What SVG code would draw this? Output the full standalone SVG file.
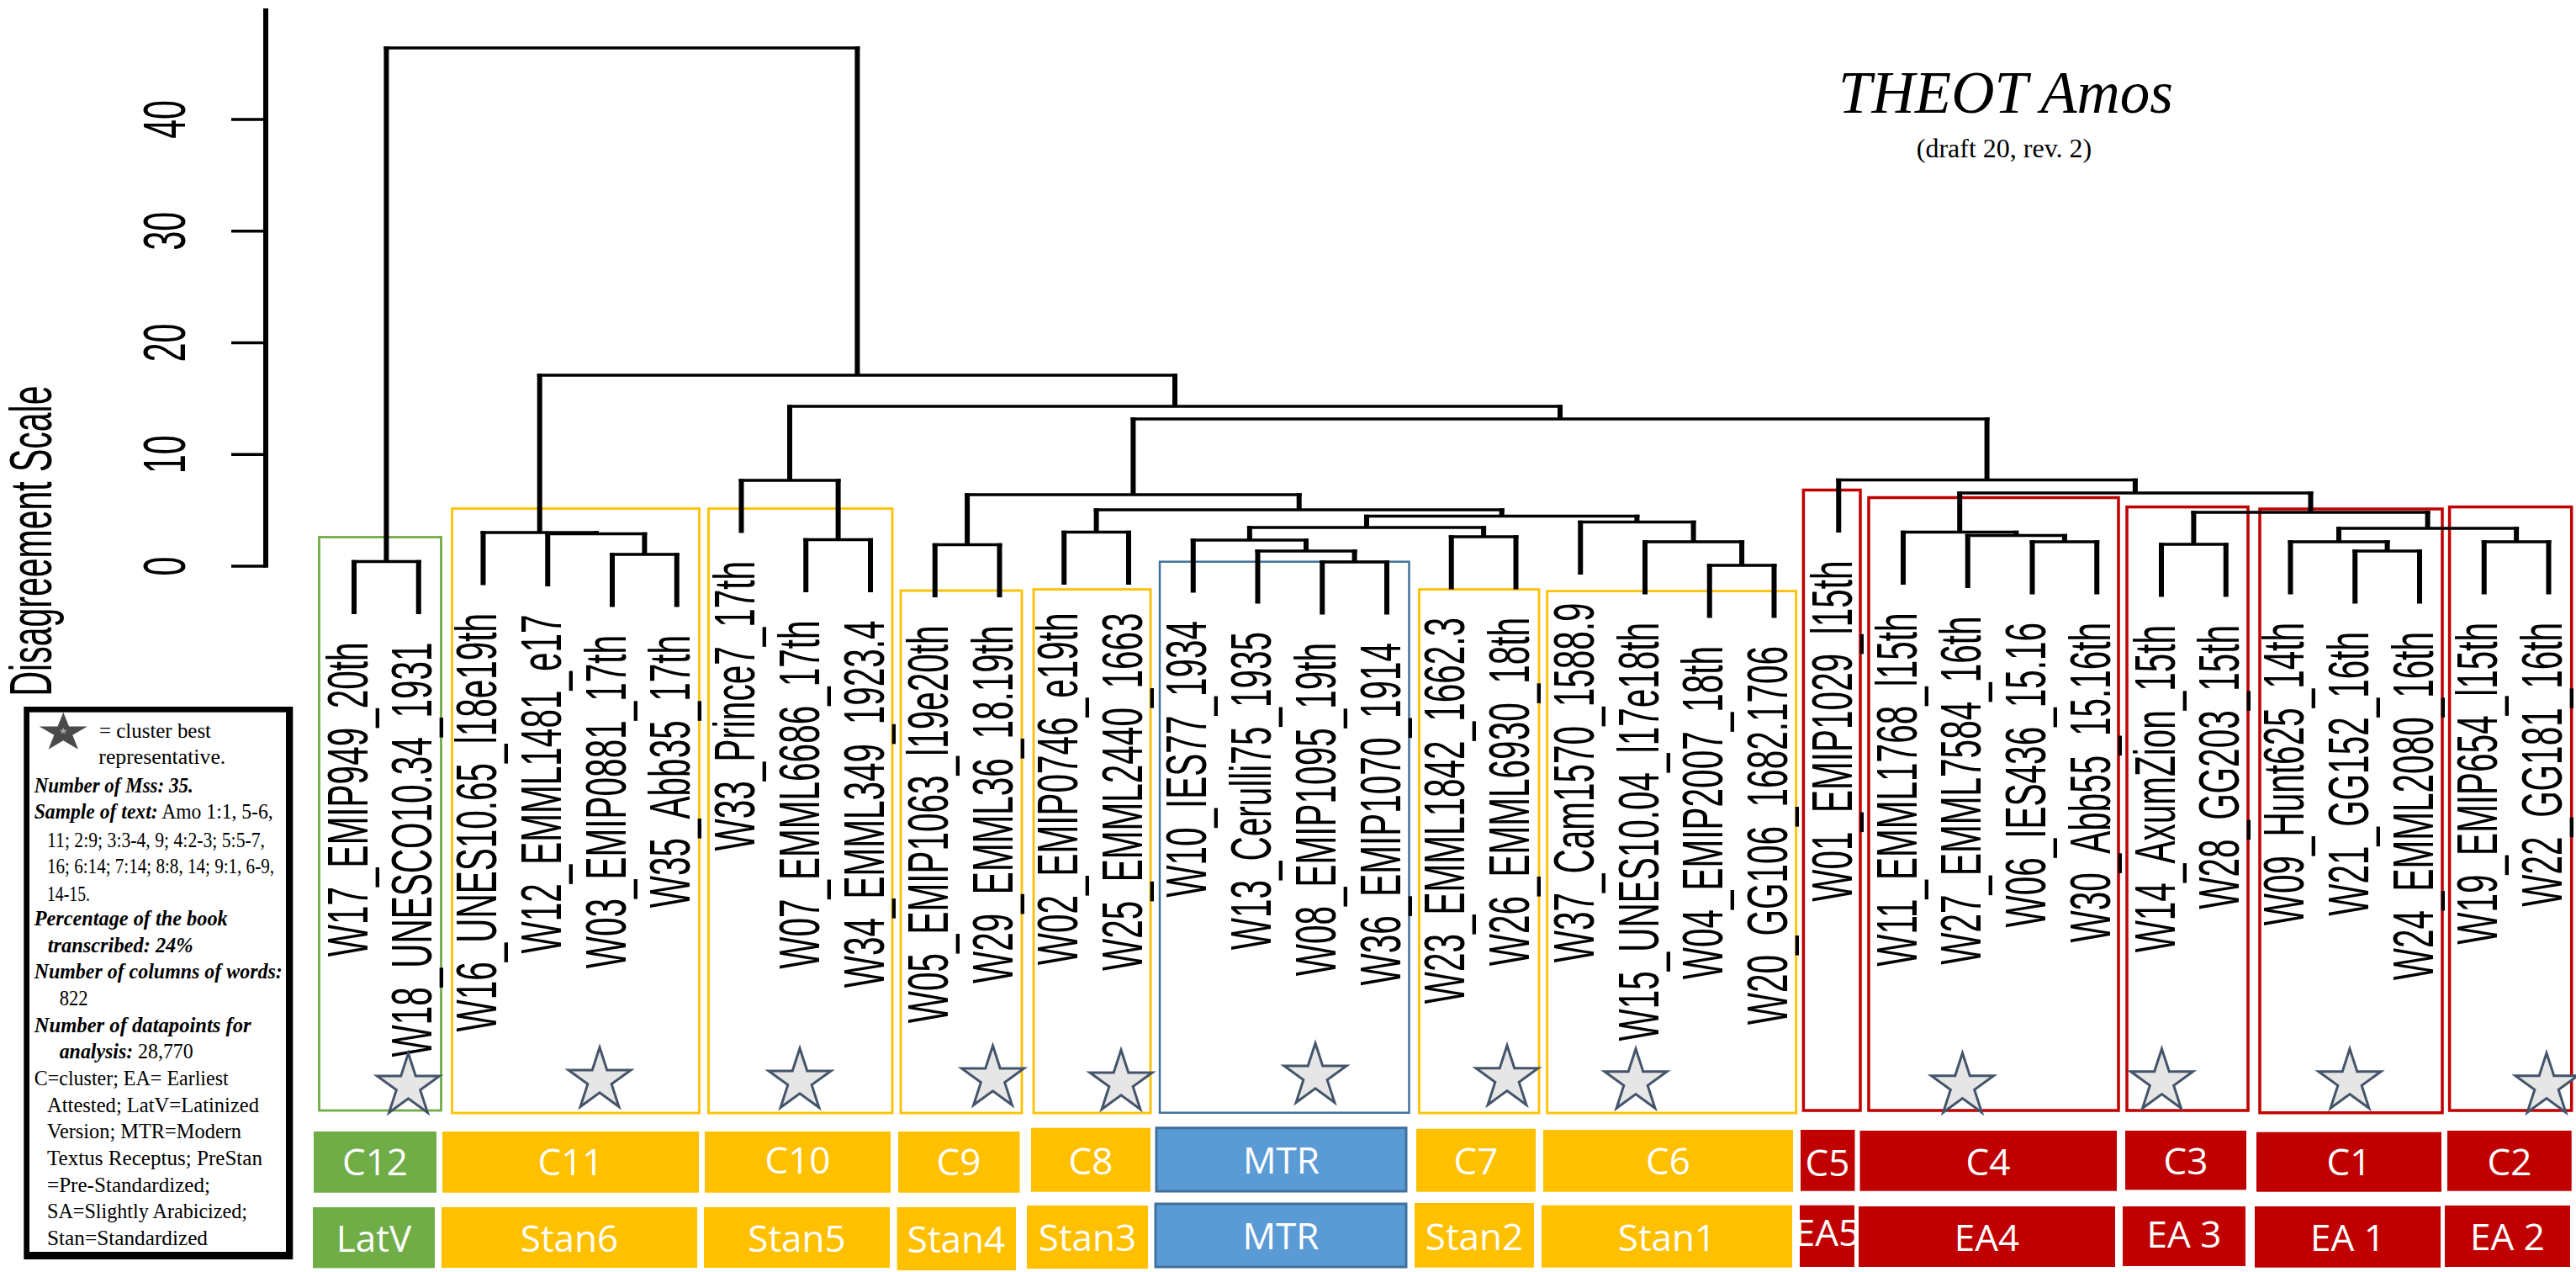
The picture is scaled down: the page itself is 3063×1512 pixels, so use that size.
<svg xmlns="http://www.w3.org/2000/svg" xmlns:xlink="http://www.w3.org/1999/xlink" width="3063" height="1512" viewBox="0 0 3063 1512">
<style>
.v{stroke:#000;stroke-width:6;fill:none}
.h{stroke:#000;stroke-width:3.5;fill:none}
.lbl{font-family:"Liberation Sans",Arial,sans-serif;font-size:40.5px;text-anchor:end;fill:#000}
.ax{font-family:"Liberation Sans",Arial,sans-serif;font-size:41px;text-anchor:middle;fill:#000}
.box{fill:none;stroke-width:2.8}
.y{stroke:#FFC000}.g{stroke:#70AD47}.r{stroke:#C00000;stroke-width:3.5}.b{stroke:#41719C;stroke-width:2.5}
.star{fill:#E7E6E6;stroke:#44546A;stroke-width:3}
.fy{fill:#FFC000}.fg{fill:#70AD47}.fr{fill:#C00000}.fb{fill:#5B9BD5;stroke:#41719C;stroke-width:3}
.t{font-family:"Open Sans",sans-serif;font-size:44px;fill:#fff;text-anchor:middle}
.lg{font-family:"Liberation Serif","Times New Roman",serif;font-size:24.5px;fill:#000}
.bi{font-weight:bold;font-style:italic}
</style>
<defs>
<path id="star" d="M0,-39 L8.76,-12.05 L37.09,-12.05 L14.17,4.6 L22.92,31.55 L0,14.9 L-22.92,31.55 L-14.17,4.6 L-37.09,-12.05 L-8.76,-12.05 Z"/>
</defs>
<rect width="3063" height="1512" fill="#fff"/>

<!-- title -->
<g id="title">
<text x="2385" y="134" font-family="Liberation Serif,serif" font-style="italic" font-size="71" text-anchor="middle">THEOT Amos</text>
<text x="2383" y="187" font-family="Liberation Serif,serif" font-size="32" text-anchor="middle">(draft 20, rev. 2)</text>
</g>

<!-- cluster boxes (outlines) -->
<g id="cluster-boxes">
<rect class="box g" x="379.5" y="638.5" width="145" height="681.5"/>
<rect class="box y" x="537.5" y="604.5" width="294" height="718.5"/>
<rect class="box y" x="842.5" y="604.5" width="218.5" height="718.5"/>
<rect class="box y" x="1071" y="702" width="144" height="621"/>
<rect class="box y" x="1229" y="700.6" width="139" height="622.4"/>
<rect class="box b" x="1379" y="667.7" width="296.5" height="655"/>
<rect class="box y" x="1687.5" y="700.6" width="142.5" height="622.4"/>
<rect class="box y" x="1839.7" y="702.6" width="296" height="620.4"/>
<rect class="box r" x="2144.4" y="582.5" width="67.6" height="737.5"/>
<rect class="box r" x="2222" y="591.5" width="297" height="728.5"/>
<rect class="box r" x="2529" y="602.6" width="144" height="717.4"/>
<rect class="box r" x="2687" y="605" width="217" height="717.7"/>
<rect class="box r" x="2912.6" y="602.6" width="145.1" height="717.4"/>
</g>

<!-- axis -->
<g id="axis">
<path class="v" d="M316 10V674.75"/>
<path class="h" d="M275 142H316M275 274.75H316M275 407.5H316M275 540.25H316M275 673H316"/>
<text class="ax" transform="translate(220,673) scale(1.7,1) rotate(-90)">0</text>
<text class="ax" transform="translate(220,540.25) scale(1.7,1) rotate(-90)">10</text>
<text class="ax" transform="translate(220,407.5) scale(1.7,1) rotate(-90)">20</text>
<text class="ax" transform="translate(220,274.75) scale(1.7,1) rotate(-90)">30</text>
<text class="ax" transform="translate(220,142) scale(1.7,1) rotate(-90)">40</text>
<text class="ax" font-size="40" transform="translate(61,643) scale(1.7,1) rotate(-90)">Disagreement Scale</text>
</g>

<!-- dendrogram connectors -->
<g id="connectors">
<path class="v" d="M459.4 55.25V667.5M1019.4 55.25V446M421 665.75V730M497.75 665.75V730M641.7 444.25V633M1397 444.25V483M574.5 631.25V695.5M708.8 631.25V634.5M651.25 632.75V697M766.4 632.75V659M728 657.25V721.5M804.75 657.25V721.5M939 481.25V571M1855 481.25V498M881.5 569.25V633.5M996.6 569.25V641.5M958.25 639.75V704M1035 639.75V704M1347.4 496.25V588M2362.6 496.25V570.5M1150.1 586.25V647.5M1544.7 586.25V606M1111.75 645.75V710M1188.5 645.75V710M1303.6 604.25V632.5M1785.7 604.25V613.5M1265.25 630.75V695M1342 630.75V695M1625 611.75V627M1946.4 611.75V620.5M1485.9 625.25V642M1764.1 625.25V638M1418.75 640.25V704.5M1553 640.25V655M1495.5 653.25V717.5M1610.6 653.25V668M1572.25 666.25V730.5M1649 666.25V730.5M1725.75 636.25V700.5M1802.5 636.25V700.5M1879.25 618.75V683M2013.6 618.75V644M1956 642.25V706.5M2071.1 642.25V672M2032.75 670.25V734.5M2109.5 670.25V734.5M2186.25 568.75V633M2538.9 568.75V586M2330.2 584.25V632.5M2747.5 584.25V609M2263 630.75V695M2397.3 630.75V636.4M2339.75 634.65V699M2454.9 634.65V644M2416.5 642.25V706.5M2493.25 642.25V706.5M2608.4 607.25V647M2886.6 607.25V628M2570 645.25V709.5M2646.75 645.25V709.5M2781 626.25V644M2992.1 626.25V644M2723.5 642.25V706.5M2838.6 642.25V655M2800.25 653.25V717.5M2877 653.25V717.5M2953.75 642.25V706.5M3030.5 642.25V706.5"/>
<path class="h" d="M456.4 57H1022.4M418 667.5H500.75M725 659H807.75M648.25 634.5H769.4M571.5 633H711.8M955.25 641.5H1038M878.5 571H999.6M1108.75 647.5H1191.5M1262.25 632.5H1345M1569.25 668H1652M1492.5 655H1613.6M1415.75 642H1556M1722.75 638H1805.5M1482.9 627H1767.1M2029.75 672H2112.5M1953 644H2074.1M1876.25 620.5H2016.6M1622 613.5H1949.4M1300.6 606H1788.7M1147.1 588H1547.7M2413.5 644H2496.25M2336.75 636.4H2457.9M2260 632.5H2400.3M2567 647H2649.75M2797.25 655H2880M2720.5 644H2841.6M2950.75 644H3033.5M2778 628H2995.1M2605.4 609H2889.6M2327.2 586H2750.5M2183.25 570.5H2541.9M1344.4 498H2365.6M936 483H1858M638.7 446H1400"/>
</g>

<!-- leaf labels -->
<g id="leaves">
<g id="leaf-W17"><text class="lbl" transform="translate(436.5,763.5) scale(1.7,1) rotate(-90)">W17_EMIP949_20th</text></g>
<g id="leaf-W18"><text class="lbl" transform="translate(513.25,763.5) scale(1.7,1) rotate(-90)">W18_UNESCO10.34_1931</text></g>
<g id="leaf-W16"><text class="lbl" transform="translate(590,729) scale(1.7,1) rotate(-90)">W16_UNES10.65_l18e19th</text></g>
<g id="leaf-W12"><text class="lbl" transform="translate(666.75,730.5) scale(1.7,1) rotate(-90)">W12_EMML1481_e17</text></g>
<g id="leaf-W03"><text class="lbl" transform="translate(743.5,755) scale(1.7,1) rotate(-90)">W03_EMIP0881_17th</text></g>
<g id="leaf-W35"><text class="lbl" transform="translate(820.25,755) scale(1.7,1) rotate(-90)">W35_Abb35_17th</text></g>
<g id="leaf-W33"><text class="lbl" transform="translate(897,667) scale(1.7,1) rotate(-90)">W33_Prince7_17th</text></g>
<g id="leaf-W07"><text class="lbl" transform="translate(973.75,737.5) scale(1.7,1) rotate(-90)">W07_EMML6686_17th</text></g>
<g id="leaf-W34"><text class="lbl" transform="translate(1050.5,737.5) scale(1.7,1) rotate(-90)">W34_EMML349_1923.4</text></g>
<g id="leaf-W05"><text class="lbl" transform="translate(1127.25,743.5) scale(1.7,1) rotate(-90)">W05_EMIP1063_l19e20th</text></g>
<g id="leaf-W29"><text class="lbl" transform="translate(1204,743.5) scale(1.7,1) rotate(-90)">W29_EMML36_18.19th</text></g>
<g id="leaf-W02"><text class="lbl" transform="translate(1280.75,728.5) scale(1.7,1) rotate(-90)">W02_EMIP0746_e19th</text></g>
<g id="leaf-W25"><text class="lbl" transform="translate(1357.5,728.5) scale(1.7,1) rotate(-90)">W25_EMML2440_1663</text></g>
<g id="leaf-W10"><text class="lbl" transform="translate(1434.25,738) scale(1.7,1) rotate(-90)">W10_IES77_1934</text></g>
<g id="leaf-W13"><text class="lbl" transform="translate(1511,751) scale(1.7,1) rotate(-90)">W13_Cerulli75_1935</text></g>
<g id="leaf-W08"><text class="lbl" transform="translate(1587.75,764) scale(1.7,1) rotate(-90)">W08_EMIP1095_19th</text></g>
<g id="leaf-W36"><text class="lbl" transform="translate(1664.5,764) scale(1.7,1) rotate(-90)">W36_EMIP1070_1914</text></g>
<g id="leaf-W23"><text class="lbl" transform="translate(1741.25,734) scale(1.7,1) rotate(-90)">W23_EMML1842_1662.3</text></g>
<g id="leaf-W26"><text class="lbl" transform="translate(1818,734) scale(1.7,1) rotate(-90)">W26_EMML6930_18th</text></g>
<g id="leaf-W37"><text class="lbl" transform="translate(1894.75,716.5) scale(1.7,1) rotate(-90)">W37_Cam1570_1588.9</text></g>
<g id="leaf-W15"><text class="lbl" transform="translate(1971.5,740) scale(1.7,1) rotate(-90)">W15_UNES10.04_l17e18th</text></g>
<g id="leaf-W04"><text class="lbl" transform="translate(2048.25,768) scale(1.7,1) rotate(-90)">W04_EMIP2007_18th</text></g>
<g id="leaf-W20"><text class="lbl" transform="translate(2125,768) scale(1.7,1) rotate(-90)">W20_GG106_1682.1706</text></g>
<g id="leaf-W01"><text class="lbl" transform="translate(2201.75,666.5) scale(1.7,1) rotate(-90)">W01_EMIP1029_l15th</text></g>
<g id="leaf-W11"><text class="lbl" transform="translate(2278.5,728.5) scale(1.7,1) rotate(-90)">W11_EMML1768_l15th</text></g>
<g id="leaf-W27"><text class="lbl" transform="translate(2355.25,732.5) scale(1.7,1) rotate(-90)">W27_EMML7584_16th</text></g>
<g id="leaf-W06"><text class="lbl" transform="translate(2432,740) scale(1.7,1) rotate(-90)">W06_IES436_15.16</text></g>
<g id="leaf-W30"><text class="lbl" transform="translate(2508.75,740) scale(1.7,1) rotate(-90)">W30_Abb55_15.16th</text></g>
<g id="leaf-W14"><text class="lbl" transform="translate(2585.5,743) scale(1.7,1) rotate(-90)">W14_AxumZion_15th</text></g>
<g id="leaf-W28"><text class="lbl" transform="translate(2662.25,743) scale(1.7,1) rotate(-90)">W28_GG203_15th</text></g>
<g id="leaf-W09"><text class="lbl" transform="translate(2739,740) scale(1.7,1) rotate(-90)">W09_Hunt625_14th</text></g>
<g id="leaf-W21"><text class="lbl" transform="translate(2815.75,751) scale(1.7,1) rotate(-90)">W21_GG152_16th</text></g>
<g id="leaf-W24"><text class="lbl" transform="translate(2892.5,751) scale(1.7,1) rotate(-90)">W24_EMML2080_16th</text></g>
<g id="leaf-W19"><text class="lbl" transform="translate(2969.25,740) scale(1.7,1) rotate(-90)">W19_EMIP654_l15th</text></g>
<g id="leaf-W22"><text class="lbl" transform="translate(3046,740) scale(1.7,1) rotate(-90)">W22_GG181_16th</text></g>
</g>

<!-- clusters: star + label rows -->
<g id="cluster-C12">
<use href="#star" class="star" x="485.5" y="1291"/>
<rect class="fg" x="373" y="1345" width="146" height="72.7"/><text class="t" x="446" y="1397">C12</text>
<rect class="fg" x="372" y="1435" width="145" height="72.3"/><text class="t" x="444.5" y="1488">LatV</text>
</g>
<g id="cluster-C11">
<use href="#star" class="star" x="713" y="1284"/>
<rect class="fy" x="526" y="1345" width="305" height="72.7"/><text class="t" x="678.5" y="1397">C11</text>
<rect class="fy" x="525" y="1435" width="304" height="72"/><text class="t" x="677" y="1488">Stan6</text>
</g>
<g id="cluster-C10">
<use href="#star" class="star" x="951" y="1285"/>
<rect class="fy" x="838" y="1345" width="221" height="72.7"/><text class="t" x="948.5" y="1395" font-size="40">C10</text>
<rect class="fy" x="837" y="1435" width="221" height="72"/><text class="t" x="947.5" y="1488">Stan5</text>
</g>
<g id="cluster-C9">
<use href="#star" class="star" x="1180.5" y="1282"/>
<rect class="fy" x="1068" y="1345" width="144.5" height="72.7"/><text class="t" x="1140" y="1397">C9</text>
<rect class="fy" x="1066.6" y="1435" width="141.4" height="75"/><text class="t" x="1137" y="1489">Stan4</text>
</g>
<g id="cluster-C8">
<use href="#star" class="star" x="1333" y="1287"/>
<rect class="fy" x="1226" y="1340.7" width="142" height="76"/><text class="t" x="1297" y="1396">C8</text>
<rect class="fy" x="1221" y="1433" width="144" height="75"/><text class="t" x="1293" y="1487">Stan3</text>
</g>
<g id="cluster-MTR">
<use href="#star" class="star" x="1564" y="1279"/>
<rect class="fb" x="1375" y="1340.7" width="297" height="75.3"/><text class="t" x="1523.5" y="1395">MTR</text>
<rect class="fb" x="1374" y="1431" width="298" height="75"/><text class="t" x="1523" y="1485">MTR</text>
</g>
<g id="cluster-C7">
<use href="#star" class="star" x="1792" y="1281.7"/>
<rect class="fy" x="1684" y="1341.7" width="142" height="75"/><text class="t" x="1755" y="1396">C7</text>
<rect class="fy" x="1682" y="1430" width="142" height="76.7"/><text class="t" x="1753" y="1486">Stan2</text>
</g>
<g id="cluster-C6">
<use href="#star" class="star" x="1945" y="1285.7"/>
<rect class="fy" x="1835" y="1343" width="297" height="73.7"/><text class="t" x="1983.5" y="1396">C6</text>
<rect class="fy" x="1833" y="1432.7" width="298" height="74"/><text class="t" x="1982" y="1487">Stan1</text>
</g>
<g id="cluster-C5">
<rect class="fr" x="2141" y="1343" width="64.5" height="72.7"/><text class="t" x="2173" y="1398" font-size="46">C5</text>
<rect class="fr" x="2140" y="1432.7" width="65" height="73.3"/><text class="t" x="2172.5" y="1481" font-size="35">EA5</text>
</g>
<g id="cluster-C4">
<use href="#star" class="star" x="2333.5" y="1290.7"/>
<rect class="fr" x="2211.5" y="1344" width="305.5" height="71.7"/><text class="t" x="2364" y="1397">C4</text>
<rect class="fr" x="2210" y="1434" width="305" height="72"/><text class="t" x="2362.5" y="1487">EA4</text>
</g>
<g id="cluster-C3">
<use href="#star" class="star" x="2570.5" y="1285.7"/>
<rect class="fr" x="2527" y="1344" width="144" height="70.3"/><text class="t" x="2599" y="1396">C3</text>
<rect class="fr" x="2524" y="1434" width="146" height="71"/><text class="t" x="2597" y="1483" font-size="40">EA 3</text>
</g>
<g id="cluster-C1">
<use href="#star" class="star" x="2794" y="1285.7"/>
<rect class="fr" x="2683" y="1345.7" width="220" height="71"/><text class="t" x="2793" y="1397">C1</text>
<rect class="fr" x="2681" y="1434" width="221" height="72.7"/><text class="t" x="2791.5" y="1487">EA 1</text>
</g>
<g id="cluster-C2">
<use href="#star" class="star" x="3028" y="1290.7"/>
<rect class="fr" x="2910" y="1344" width="147.7" height="71.7"/><text class="t" x="2984" y="1397">C2</text>
<rect class="fr" x="2907" y="1433" width="149" height="73"/><text class="t" x="2981.5" y="1486">EA 2</text>
</g>

<!-- legend -->
<g id="legend">
<rect x="28.3" y="840" width="320" height="657" fill="#000"/>
<rect x="35" y="846.7" width="305" height="641.3" fill="#fff"/>
<use href="#star" transform="translate(75.3,871) scale(0.773,0.623)" fill="#4A4A4A"/>
<use href="#star" transform="translate(75.3,869) scale(0.13,0.11)" fill="#A8A8A8"/>
<text class="lg" x="118" y="876.7" textLength="133" lengthAdjust="spacingAndGlyphs">= cluster best</text>
<text class="lg" x="117.3" y="908.3" textLength="151" lengthAdjust="spacingAndGlyphs">representative.</text>
<text class="lg bi" x="40.7" y="941.7" textLength="189" lengthAdjust="spacingAndGlyphs">Number of Mss: 35.</text>
<text class="lg" x="40.7" y="973.3" textLength="284" lengthAdjust="spacingAndGlyphs"><tspan class="bi">Sample  of text:</tspan> Amo 1:1, 5-6,</text>
<text class="lg" x="56" y="1006.7" textLength="259" lengthAdjust="spacingAndGlyphs">11; 2:9; 3:3-4, 9; 4:2-3; 5:5-7,</text>
<text class="lg" x="56" y="1038.3" textLength="270" lengthAdjust="spacingAndGlyphs">16; 6:14; 7:14; 8:8, 14; 9:1, 6-9,</text>
<text class="lg" x="56" y="1070.7" textLength="51" lengthAdjust="spacingAndGlyphs">14-15.</text>
<text class="lg bi" x="40.7" y="1100" textLength="230" lengthAdjust="spacingAndGlyphs">Percentage of the book</text>
<text class="lg bi" x="56.7" y="1131.7" textLength="173" lengthAdjust="spacingAndGlyphs">transcribed: 24%</text>
<text class="lg bi" x="40.7" y="1163.3" textLength="295" lengthAdjust="spacingAndGlyphs">Number of columns of words:</text>
<text class="lg" x="70.7" y="1195" textLength="34" lengthAdjust="spacingAndGlyphs">822</text>
<text class="lg bi" x="40.7" y="1226.7" textLength="258" lengthAdjust="spacingAndGlyphs">Number of datapoints for</text>
<text class="lg" x="70.7" y="1258.3" textLength="159" lengthAdjust="spacingAndGlyphs"><tspan class="bi">analysis:</tspan> 28,770</text>
<text class="lg" x="40.7" y="1290" textLength="231" lengthAdjust="spacingAndGlyphs">C=cluster; EA= Earliest</text>
<text class="lg" x="56" y="1321.7" textLength="252" lengthAdjust="spacingAndGlyphs">Attested; LatV=Latinized</text>
<text class="lg" x="56" y="1353" textLength="231" lengthAdjust="spacingAndGlyphs">Version; MTR=Modern</text>
<text class="lg" x="56" y="1385" textLength="256" lengthAdjust="spacingAndGlyphs">Textus Receptus; PreStan</text>
<text class="lg" x="56" y="1416.7" textLength="194" lengthAdjust="spacingAndGlyphs">=Pre-Standardized;</text>
<text class="lg" x="56" y="1448" textLength="238" lengthAdjust="spacingAndGlyphs">SA=Slightly Arabicized;</text>
<text class="lg" x="56" y="1480" textLength="191" lengthAdjust="spacingAndGlyphs">Stan=Standardized</text>
</g>
</svg>
